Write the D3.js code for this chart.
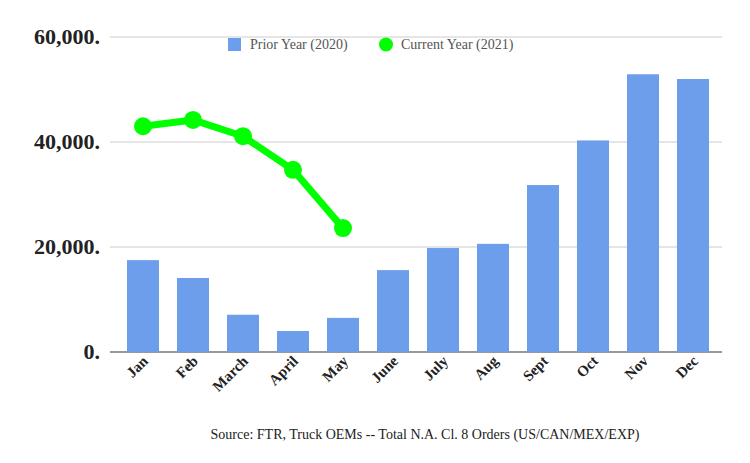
<!DOCTYPE html>
<html><head><meta charset="utf-8">
<script src="https://cdn.jsdelivr.net/npm/d3@7"></script>
<style>body{margin:0;background:#fff}svg{display:block}</style>
</head><body>
<script>
const categories=["Jan","Feb","March","April","May","June","July","Aug","Sept","Oct","Nov","Dec"];
const prior=[17500,14100,7100,4000,6500,15600,19800,20600,31800,40300,52900,52000];
const current=[43000,44200,41100,34700,23600];
const yTicks=[0,20000,40000,60000];
const yTickLabels=["0.","20,000.","40,000.","60,000."];

const W=750,H=463;
const svg=d3.select("body").append("svg").attr("width",W).attr("height",H);
const x=d3.scaleBand().domain(categories).range([118,718]).paddingInner(0.36).paddingOuter(0.18);
const y=d3.scaleLinear().domain([0,60000]).range([352,37]);
const serif="'Liberation Serif','DejaVu Serif',serif";

svg.append("g").selectAll("line").data(yTicks).join("line")
 .attr("x1",110).attr("x2",722).attr("y1",d=>y(d)).attr("y2",d=>y(d))
 .attr("stroke",d=>d===0?"#333":"#ccc").attr("stroke-width",1);
svg.append("g").selectAll("text").data(yTicks).join("text")
 .attr("x",100).attr("y",d=>y(d)+7).attr("text-anchor","end")
 .attr("font-family",serif).attr("font-weight","bold").attr("font-size",22).attr("fill","#222")
 .text((d,i)=>yTickLabels[i]);

svg.append("g").selectAll("rect").data(prior).join("rect")
 .attr("x",(d,i)=>x(categories[i])).attr("width",x.bandwidth())
 .attr("y",d=>y(d)).attr("height",d=>y(0)-y(d)).attr("fill","#6d9eeb");

const cx=(i)=>x(categories[i])+x.bandwidth()/2;
svg.append("path").datum(current)
 .attr("d",d3.line().x((d,i)=>cx(i)).y(d=>y(d)))
 .attr("fill","none").attr("stroke","#00ff00").attr("stroke-width",7).attr("stroke-linejoin","round");
svg.append("g").selectAll("circle").data(current).join("circle")
 .attr("cx",(d,i)=>cx(i)).attr("cy",d=>y(d)).attr("r",9).attr("fill","#00ff00");

svg.append("g").selectAll("text").data(categories).join("text")
 .attr("transform",(d,i)=>`translate(${cx(i)+6},${362}) rotate(-45)`)
 .attr("text-anchor","end").attr("font-family",serif).attr("font-weight","bold")
 .attr("font-size",15).attr("fill","#222").text(d=>d);

const lg=svg.append("g").attr("font-family",serif).attr("font-size",14).attr("fill","#555");
lg.append("rect").attr("x",228).attr("y",38).attr("width",13).attr("height",13).attr("fill","#6d9eeb");
lg.append("text").attr("x",250).attr("y",49).text("Prior Year (2020)");
lg.append("circle").attr("cx",386).attr("cy",44.5).attr("r",7).attr("fill","#00ff00");
lg.append("text").attr("x",401).attr("y",49).text("Current Year (2021)");

svg.append("text").attr("x",425).attr("y",439).attr("text-anchor","middle")
 .attr("font-family",serif).attr("font-size",14).attr("fill","#222")
 .text("Source: FTR, Truck OEMs -- Total N.A. Cl. 8 Orders (US/CAN/MEX/EXP)");
</script>
</body></html>
